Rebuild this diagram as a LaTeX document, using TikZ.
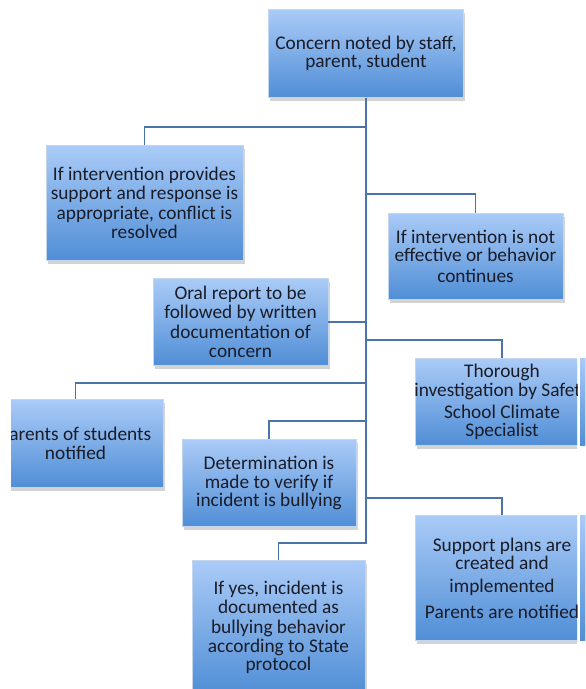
\documentclass[tikz,border=0pt]{standalone}
\usepackage{fontspec}
\setmainfont{Carlito}
\usetikzlibrary{shadows}
\definecolor{boxtop}{RGB}{170,203,247}
\definecolor{boxbot}{RGB}{80,142,214}
\definecolor{boxline}{RGB}{196,214,238}
\definecolor{linkblue}{RGB}{74,116,168}
\definecolor{ink}{RGB}{26,28,40}

\begin{document}
\begin{tikzpicture}[x=0.02cm, y=-0.02cm, font=\fontsize{11}{10.6}\selectfont]
\tikzstyle{box}=[draw=boxline, line width=0.4pt, top color=boxtop, bottom color=boxbot, text=ink, align=center, inner sep=2pt, drop shadow={opacity=0.35, shadow xshift=1pt, shadow yshift=-2pt}]
\tikzstyle{link}=[draw=linkblue, line width=1.1pt]
\useasboundingbox (0,0) rectangle (585,689);
\clip (0,0) rectangle (585,689);
\node[box, minimum width=3.9cm, minimum height=1.76cm] (concern) at (366,53.5) {Concern noted by staff,\\parent, student};
\node[box, minimum width=3.94cm, minimum height=2.3cm] (resolved) at (144.5,203) {If intervention provides\\support and response is\\[1pt]appropriate, conflict is\\resolved};
\node[box, minimum width=3.5cm, minimum height=1.72cm] (noteff) at (475.5,256) {If intervention is not\\effective or behavior\\[1pt]continues};
\node[box, minimum width=3.5cm, minimum height=1.74cm] (oral) at (240.5,322) {Oral report to be\\followed by written\\[1pt]documentation of\\concern};
% boxes cut at the edges
\begin{scope}
\clip (0,0) rectangle (577,689);
\node[box, minimum width=3.48cm, minimum height=1.74cm] (thorough) at (502,402) {Thorough\\\makebox[0pt]{investigation by Safety}\\[2pt]School Climate\\Specialist};
\node[box, minimum width=3.48cm, minimum height=2.5cm] (support) at (502,578) {Support plans are\\created and\\[2.5pt]implemented\\[4pt]\makebox[0pt]{Parents are notified}};
\end{scope}
\fill[top color=boxtop, bottom color=boxbot] (580,358) rectangle (590,445);
\fill[top color=boxtop, bottom color=boxbot] (580,515) rectangle (590,640);
\begin{scope}
\clip (11,0) rectangle (585,689);
\node[box, minimum width=3.5cm, minimum height=1.76cm] (parents) at (75.5,443.5) {\makebox[0pt]{Parents of students}\\notified};
\end{scope}
\node[box, minimum width=3.48cm, minimum height=1.74cm] (determ) at (269,483) {Determination is\\made to verify if\\incident is bullying};
\node[box, minimum width=3.46cm, minimum height=2.68cm] (yes) at (278.5,627.5) {If yes, incident is\\documented as\\[1pt]bullying behavior\\according to State\\protocol};
% tree lines
\foreach \t/\d in {resolved/29, noteff/96, thorough/242, parents/285, determ/323, support/400, yes/445}{\draw[link] (concern.south) -- ++(0,\d) -| (\t.north);}
\draw[link] (concern.south) |- (oral.east);
\end{tikzpicture}
\end{document}
